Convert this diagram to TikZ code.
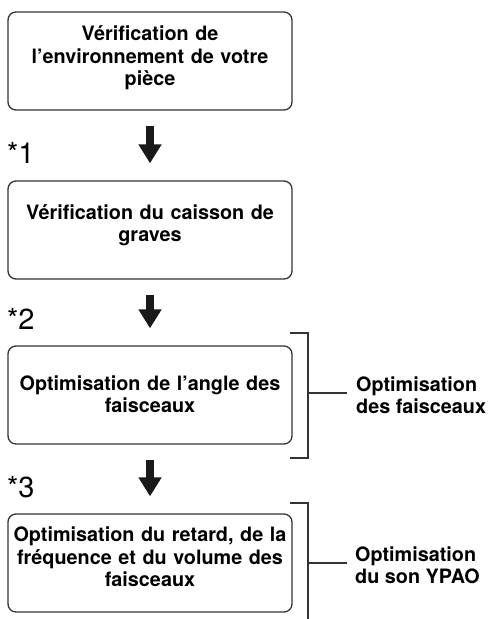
\documentclass[tikz,border=0pt]{standalone}
\usepackage{fontspec}
\setmainfont{TeX Gyre Heros}
\usetikzlibrary{arrows.meta}
\tikzset{
  box/.style={draw=black!80, line width=1.3pt, rounded corners=8pt, minimum width=284pt, minimum height=98pt, inner sep=0pt},
  boxtext/.style={font=\bfseries\fontsize{19.8}{22.5}\selectfont, align=center, text width=284pt, inner sep=0pt},
  sidetext/.style={font=\bfseries\fontsize{19.8}{21.5}\selectfont, align=left, inner sep=0pt, anchor=west},
  bigarrow/.style={line width=8.5pt, black!90, -{Triangle[width=22pt,length=19pt]}, shorten <=15pt, shorten >=17pt},
  starlbl/.style={font=\fontsize{29}{30}\selectfont, inner sep=0pt, anchor=base west},
  brk/.style={draw=black!80, line width=1.2pt}
}
\begin{document}
\begin{tikzpicture}[x=1pt,y=-1pt]
\useasboundingbox (0,0) rectangle (488,619);
% boxes
\node[box] (b1) at (150,61) {};
\node[box] (b2) at (150,230) {};
\node[box] (b3) at (150,395) {};
\node[box] (b4) at (150,563) {};
% texts
\node[boxtext] (t1) at (150,58) {Vérification de\\l’environnement de votre\\pièce};
\node[boxtext] (t2) at (150,225) {Vérification du caisson de\\graves};
\node[boxtext] (t3) at (150,394) {Optimisation de l’angle des\\faisceaux};
\node[boxtext] (t4) at (150,557) {Optimisation du retard, de la\\fréquence et du volume des\\faisceaux};
% arrows
\draw[bigarrow] (b1.south) -- (b2.north);
\draw[bigarrow] (b2.south) -- (b3.north);
\draw[bigarrow] (b3.south) -- (b4.north);
% star labels
\node[starlbl] (s1) at (7,163) {*1};
\node[starlbl] (s2) at (7,329) {*2};
\node[starlbl] (s3) at (7,497) {*3};
% brackets
\coordinate (k1a) at (290,333);
\coordinate (k1b) at (308,333);
\coordinate (k1c) at (308,458);
\coordinate (k1d) at (290,458);
\coordinate (k1m) at (308,393);
\draw[brk] (k1a) -- (k1b) -- (k1c) -- (k1d);
\node[sidetext] (r1) at (356,395) {Optimisation\\des faisceaux};
\draw[brk] (k1m) -- (347,393);
\coordinate (k2a) at (290,503);
\coordinate (k2b) at (308,503);
\coordinate (k2c) at (308,625);
\coordinate (k2m) at (308,563);
\draw[brk] (k2a) -- (k2b) -- (k2c);
\node[sidetext] (r2) at (355,565) {Optimisation\\du son YPAO};
\draw[brk] (k2m) -- (347,563);
\end{tikzpicture}
\end{document}
